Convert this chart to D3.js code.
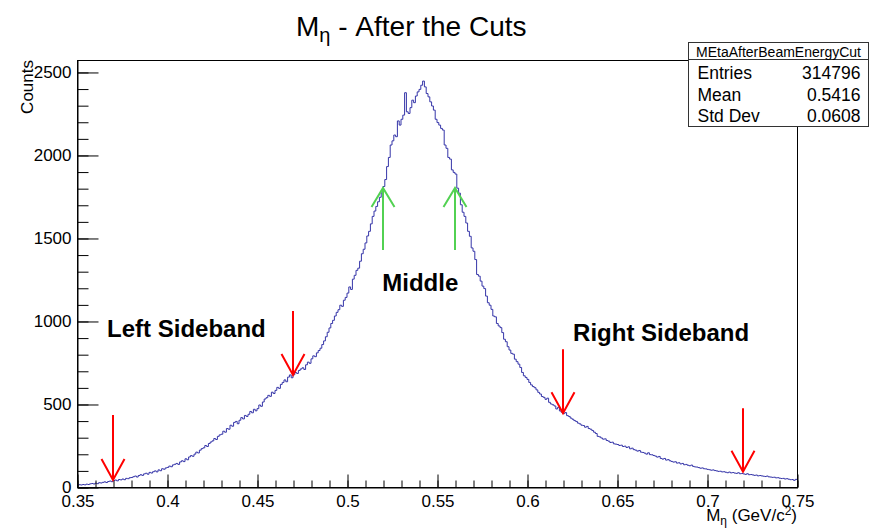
<!DOCTYPE html>
<html>
<head>
<meta charset="utf-8">
<script src="https://cdn.jsdelivr.net/npm/d3@7"></script>
<style>
  html, body { margin: 0; padding: 0; background: #fff; }
  svg { display: block; font-family: "Liberation Sans", Arial, Helvetica, sans-serif; }
</style>
</head>
<body>
<svg id="chart" width="873" height="530"></svg>
<script>
// Histogram binning: 400 bins of width 0.001 GeV/c^2 from 0.35 to 0.75
const binStart = 0.35;
const binWidth = 0.001;

// Bin contents (counts per bin), left to right
const counts = [
  11, 14, 12, 15, 13,   17, 15, 19, 21, 18,   23, 20, 26, 24, 28,   31, 27, 33, 36, 32,
  39, 42, 37, 45, 43,   48, 44, 52, 50, 56,   57, 62, 66, 60, 69,   74, 70, 79, 83, 77,
  88, 84, 92, 97, 91,   103, 98, 110, 107, 115,   118, 126, 122, 133, 137,   142, 136, 151, 158, 153,
  170, 164, 181, 189, 185,   198, 210, 205, 222, 231,   236, 250, 244, 262, 271,   278, 292, 286, 305, 314,
  318, 336, 330, 352, 348,   372, 366, 389, 395, 381,   402, 418, 410, 431, 425,   438, 455, 447, 468, 459,
  472, 494, 486, 512, 530,   538, 552, 546, 571, 563,   582, 600, 594, 618, 630,   645, 634, 662, 675, 658,
  676, 690, 684, 702, 711,   718, 708, 736, 752, 745,   772, 790, 785, 808, 822,   836, 858, 880, 905, 932,
  958, 985, 1004, 1030, 1052,   1068, 1095, 1088, 1125, 1142,   1168, 1205, 1190, 1252, 1275,   1305, 1318, 1360, 1405, 1432,
  1470, 1512, 1540, 1585, 1630,   1662, 1690, 1718, 1745, 1772,   1810, 1852, 1930, 1985, 2060,   2085, 2120, 2110, 2205, 2180,
  2215, 2240, 2375, 2260, 2250,   2285, 2330, 2315, 2355, 2380,   2395, 2420, 2445, 2410, 2370,   2350, 2320, 2295, 2270, 2215,
  2195, 2180, 2160, 2150, 2060,   2040, 1985, 1975, 1910, 1895,   1885, 1800, 1770, 1700, 1655,   1630, 1590, 1540, 1510, 1440,
  1420, 1370, 1280, 1270, 1240,   1210, 1195, 1150, 1110, 1095,   1070, 1030, 1025, 985, 970,   960, 930, 890, 875, 845,
  825, 805, 800, 770, 755,   740, 720, 690, 670, 660,   648, 630, 615, 605, 598,   585, 570, 560, 545, 540,
  528, 535, 510, 500, 495,   488, 470, 480, 458, 450,   442, 448, 430, 425, 415,   408, 400, 395, 385, 380,
  372, 370, 360, 365, 352,   348, 340, 330, 322, 305,   302, 295, 288, 290, 280,   276, 268, 270, 260, 258,
  256, 250, 252, 244, 246,   238, 242, 230, 234, 225,   222, 216, 220, 210, 208,   204, 198, 206, 195, 194,
  190, 186, 180, 184, 172,   168, 172, 162, 165, 158,   154, 150, 152, 144, 146,   139, 142, 134, 136, 131,
  128, 132, 124, 121, 120,   117, 113, 115, 110, 109,   106, 104, 101, 103, 99,   97, 94, 95, 91, 92,
  89, 86, 90, 85, 87,   84, 82, 86, 80, 81,   79, 76, 80, 74, 75,   73, 70, 72, 67, 69,
  67, 65, 63, 66, 61,   60, 58, 59, 55, 56,   53, 51, 52, 48, 50,   47, 44, 45, 40, 46
];

// Axis ranges and ticks
const xDomain = [0.35, 0.75];
const yDomain = [0, 2572];
const xMajorTicks = [0.35, 0.4, 0.45, 0.5, 0.55, 0.6, 0.65, 0.7, 0.75];
const xTickLabels = ["0.35", "0.4", "0.45", "0.5", "0.55", "0.6", "0.65", "0.7", "0.75"];
const xMinorStep = 0.01;
const yMajorTicks = [0, 500, 1000, 1500, 2000, 2500];
const yMinorStep = 100;

// Sideband markers (red, pointing down) and signal window markers (green, pointing up)
const redArrowX = [0.37, 0.47, 0.62, 0.72];
const redArrowTail = [434, 1060, 830, 474];
const redArrowHead = [42, 675, 444, 92];
const greenArrowX = [0.52, 0.56];
const greenArrowTail = [1428, 1428];
const greenArrowHead = [1801, 1801];

// Region labels
const regionNames = ["Left Sideband", "Middle", "Right Sideband"];
const regionX = [0.3667, 0.5196, 0.6256];
const regionY = [905, 1183, 878];

// Statistics box
const statTitle = "MEtaAfterBeamEnergyCut";
const statLabels = ["Entries", "Mean", "Std Dev"];
const statValues = ["314796", "0.5416", "0.0608"];

const svg = d3.select("#chart");
const W = 873, H = 530;
const frame = { left: 77, right: 797, top: 60, bottom: 487 };

const x = d3.scaleLinear().domain(xDomain).range([frame.left, frame.right]);
const y = d3.scaleLinear().domain(yDomain).range([frame.bottom, frame.top]);

svg.append("rect").attr("width", W).attr("height", H).attr("fill", "#fff");

// Histogram outline as a step line
const steps = counts.map((c, i) => [binStart + i * binWidth, c]);
steps.push([binStart + counts.length * binWidth, counts[counts.length - 1]]);
const stepLine = d3.line()
  .x(d => x(d[0]))
  .y(d => y(d[1]))
  .curve(d3.curveStepAfter);
svg.append("path")
  .datum(steps)
  .attr("d", stepLine)
  .attr("fill", "none")
  .attr("stroke", "#3535a8")
  .attr("stroke-width", 1);

// Frame
svg.append("rect")
  .attr("x", frame.left + 0.5).attr("y", frame.top + 0.5)
  .attr("width", frame.right - frame.left).attr("height", frame.bottom - frame.top)
  .attr("fill", "none").attr("stroke", "#000").attr("stroke-width", 1);

// Minor ticks
const xMinor = d3.range(Math.round((xDomain[1] - xDomain[0]) / xMinorStep) + 1)
  .map(i => +(xDomain[0] + i * xMinorStep).toFixed(3));
const yMinor = d3.range(0, yDomain[1], yMinorStep);

const xMinorAxis = svg.append("g")
  .attr("transform", `translate(0.5,${frame.bottom + 0.5})`)
  .call(d3.axisBottom(x).tickValues(xMinor).tickSizeInner(-7).tickSizeOuter(0).tickFormat(""));
xMinorAxis.select(".domain").remove();

const yMinorAxis = svg.append("g")
  .attr("transform", `translate(${frame.left + 0.5},0.5)`)
  .call(d3.axisLeft(y).tickValues(yMinor).tickSizeInner(-11).tickSizeOuter(0).tickFormat(""));
yMinorAxis.select(".domain").remove();

// Major axes
const xAxis = svg.append("g")
  .attr("transform", `translate(0.5,${frame.bottom + 0.5})`)
  .call(d3.axisBottom(x).tickValues(xMajorTicks).tickSizeInner(-13).tickSizeOuter(0)
    .tickPadding(6).tickFormat((d, i) => xTickLabels[i]));

const yAxis = svg.append("g")
  .attr("transform", `translate(${frame.left + 0.5},0.5)`)
  .call(d3.axisLeft(y).tickValues(yMajorTicks).tickSizeInner(-21).tickSizeOuter(0)
    .tickPadding(6).tickFormat(d3.format("d")));

[xAxis, yAxis, xMinorAxis, yMinorAxis].forEach(g => {
  g.selectAll("line").attr("stroke", "#000");
  g.select(".domain").attr("stroke", "#000");
  g.selectAll("text").attr("fill", "#000").style("font-size", "17px")
    .style("font-family", "'Liberation Sans', Arial, Helvetica, sans-serif");
});
xAxis.selectAll("text").attr("y", 7).attr("dy", "0.71em");
yAxis.selectAll("text").attr("dy", "0.28em");

// Axis titles
svg.append("text")
  .attr("transform", `translate(33,${frame.top}) rotate(-90)`)
  .attr("text-anchor", "end")
  .style("font-size", "17px")
  .text("Counts");

const xTitle = svg.append("text")
  .attr("x", frame.right)
  .attr("y", 521)
  .attr("text-anchor", "end")
  .style("font-size", "17px");
xTitle.append("tspan").text("M");
xTitle.append("tspan").attr("dy", 4).style("font-size", "12px").text("η");
xTitle.append("tspan").attr("dy", -4).text(" (GeV/c");
xTitle.append("tspan").attr("dy", -6).style("font-size", "12px").text("2");
xTitle.append("tspan").attr("dy", 6).text(")");

// Main title
const title = svg.append("text")
  .attr("x", 296)
  .attr("y", 36)
  .style("font-size", "28px");
title.append("tspan").text("M");
title.append("tspan").attr("dy", 6).style("font-size", "20px").text("η");
title.append("tspan").attr("dy", -6).text(" - After the Cuts");

// Arrows
function drawArrow(xv, tailV, headV, color, wing, back) {
  const px = x(xv), y0 = y(tailV), y1 = y(headV);
  const dir = Math.sign(y1 - y0);
  svg.append("line")
    .attr("x1", px).attr("x2", px).attr("y1", y0).attr("y2", y1)
    .attr("stroke", color).attr("stroke-width", 2);
  svg.append("path")
    .attr("d", `M${px - wing},${y1 - dir * back}L${px},${y1}L${px + wing},${y1 - dir * back}`)
    .attr("fill", "none").attr("stroke", color).attr("stroke-width", 2);
}
redArrowX.forEach((xv, i) => drawArrow(xv, redArrowTail[i], redArrowHead[i], "#ff0000", 11.5, 21));
greenArrowX.forEach((xv, i) => drawArrow(xv, greenArrowTail[i], greenArrowHead[i], "#52d152", 11.5, 19));

// Region labels
regionNames.forEach((name, i) => {
  svg.append("text")
    .attr("x", x(regionX[i]))
    .attr("y", y(regionY[i]))
    .style("font-size", "24px")
    .style("font-weight", "bold")
    .text(name);
});

// Statistics box
const box = { x: 688.5, y: 42.5, w: 180, h: 84, titleH: 17 };
const stats = svg.append("g");
stats.append("rect")
  .attr("x", box.x).attr("y", box.y).attr("width", box.w).attr("height", box.h)
  .attr("fill", "#fff").attr("stroke", "#333").attr("stroke-width", 1);
stats.append("line")
  .attr("x1", box.x).attr("x2", box.x + box.w)
  .attr("y1", box.y + box.titleH).attr("y2", box.y + box.titleH)
  .attr("stroke", "#333").attr("stroke-width", 1);
stats.append("text")
  .attr("x", box.x + box.w / 2).attr("y", box.y + 14)
  .attr("text-anchor", "middle")
  .style("font-size", "14px")
  .text(statTitle);
statLabels.forEach((lab, i) => {
  const by = 79 + i * 21.6;
  stats.append("text").attr("x", box.x + 9).attr("y", by)
    .style("font-size", "17.5px").text(lab);
  stats.append("text").attr("x", box.x + box.w - 8).attr("y", by)
    .attr("text-anchor", "end").style("font-size", "17.5px").text(statValues[i]);
});
</script>
</body>
</html>
